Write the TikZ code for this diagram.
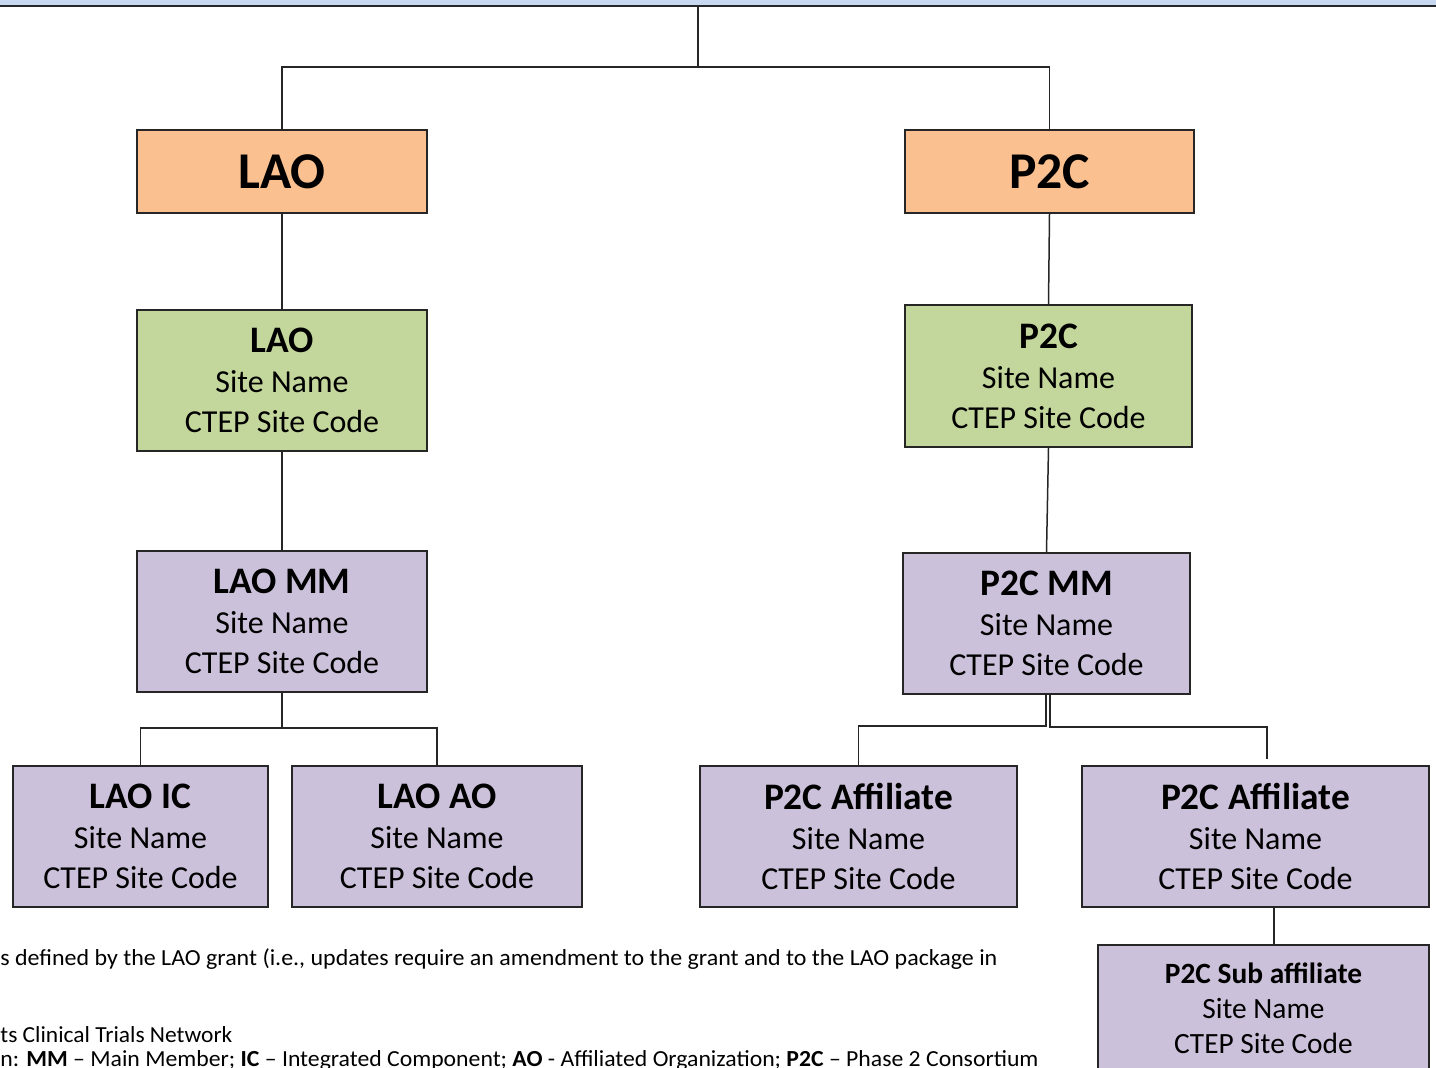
\documentclass[tikz,border=0pt]{standalone}
\usepackage{fontspec}
\setmainfont{Carlito}
\usetikzlibrary{calc}
\definecolor{orangefill}{HTML}{FAC090}
\definecolor{greenfill}{HTML}{C3D69B}
\definecolor{purplefill}{HTML}{CCC1DA}
\definecolor{bandblue}{HTML}{C6D9F1}
\definecolor{boxline}{HTML}{262626}
\newcommand\boxtitle[1]{{\fontsize{18.7}{20}\selectfont\bfseries #1}}
\begin{document}
\begin{tikzpicture}[x=0.5pt,y=-0.5pt,
  box/.style={draw=boxline, line width=1pt, inner sep=0pt, align=center,
    font=\fontsize{16}{20}\selectfont},
  bigbox/.style={box, fill=orangefill, minimum height=41.5pt,
    font=\fontsize{25.8}{30}\selectfont\bfseries},
  subbox/.style={box, fill=purplefill, font=\fontsize{14.7}{17.5}\selectfont},
  conn/.style={draw=boxline, line width=0.75pt},
  note/.style={anchor=base west, inner sep=0pt, font=\fontsize{11.5}{13}\selectfont}]
\useasboundingbox (0,0) rectangle (1436,1067);
% top band
\fill[bandblue] (-10,-20) rectangle (1446,6);
\draw[boxline, line width=1.2pt] (-10,6) -- (1446,6);
% level 0
\node[bigbox, minimum width=145pt] (lao0) at (282,171.5) {LAO};
\node[bigbox, minimum width=144.5pt] (p2c0) at (1049.5,171.5) {P2C};
% level 1
\node[box, fill=greenfill, minimum width=145pt, minimum height=70.5pt] (lao1) at (282,380.5)
  {\boxtitle{LAO}\\Site Name\\CTEP Site Code};
\node[box, fill=greenfill, minimum width=143.5pt, minimum height=71pt] (p2c1) at (1048.5,376)
  {\boxtitle{P2C}\\Site Name\\CTEP Site Code};
% level 2
\node[box, fill=purplefill, minimum width=145pt, minimum height=70.5pt] (laomm) at (282,621.5)
  {\boxtitle{LAO MM}\\Site Name\\CTEP Site Code};
\node[box, fill=purplefill, minimum width=143.5pt, minimum height=70.5pt] (p2cmm) at (1046.5,623.5)
  {\boxtitle{P2C MM}\\Site Name\\CTEP Site Code};
% level 3
\node[box, fill=purplefill, minimum width=127.5pt, minimum height=70.5pt] (laoic) at (140.5,836.5)
  {\boxtitle{LAO IC}\\Site Name\\CTEP Site Code};
\node[box, fill=purplefill, minimum width=145pt, minimum height=70.5pt] (laoao) at (437,836.5)
  {\boxtitle{LAO AO}\\Site Name\\CTEP Site Code};
\node[box, fill=purplefill, minimum width=158.5pt, minimum height=70.5pt] (aff1) at (858.5,836.5)
  {\boxtitle{P2C Affiliate}\\Site Name\\CTEP Site Code};
\node[box, fill=purplefill, minimum width=173.5pt, minimum height=70.5pt] (aff2) at (1255.5,836.5)
  {\boxtitle{P2C Affiliate}\\Site Name\\CTEP Site Code};
% level 4
\node[subbox, minimum width=165.5pt, minimum height=63pt] (sub) at (1263.5,1008)
  {\textbf{P2C Sub affiliate}\\Site Name\\CTEP Site Code};
% connectors
\coordinate (topc) at (698,6);
\coordinate (bar) at (698,67);
\draw[conn] (topc) -- (bar);
\draw[conn] (lao0.north) |- (bar) -| (p2c0.north);
\draw[conn] (lao0.south) -- (lao1.north);
\draw[conn] (p2c0.south) -- (p2c1.north);
\draw[conn] (lao1.south) -- (laomm.north);
\draw[conn] (p2c1.south) -- (p2cmm.north);
\coordinate (lj) at (282,728);
\draw[conn] (laomm.south) -- (lj) -| (laoic.north);
\draw[conn] (lj) -| (laoao.north);
\coordinate (plx) at (1046,0);
\coordinate (plj) at (1046,726);
\draw[conn] (p2cmm.south -| plx) -- (plj) -| (aff1.north);
\coordinate (prx) at (1050,0);
\coordinate (prj) at (1050,727);
\coordinate (pre) at (1267,759);
\draw[conn] (p2cmm.south -| prx) -- (prj) -| (pre);
\coordinate (sx) at (1274,0);
\draw[conn] (aff2.south -| sx) -- (sub.north -| sx);
% notes
\node[note] (note1) at (0,965) {\resizebox{498.5pt}{\height}{s defined by the LAO grant (i.e., updates require an amendment to the grant and to the LAO package in}};
\node[note] (note2) at (0,1042) {\resizebox{116pt}{\height}{ts Clinical Trials Network}};
\node[note] (note3) at (0,1066) {\resizebox{519pt}{\height}{n: \textbf{MM} – Main Member; \textbf{IC} – Integrated Component; \textbf{AO} - Affiliated Organization; \textbf{P2C} – Phase 2 Consortium}};
\end{tikzpicture}
\end{document}
